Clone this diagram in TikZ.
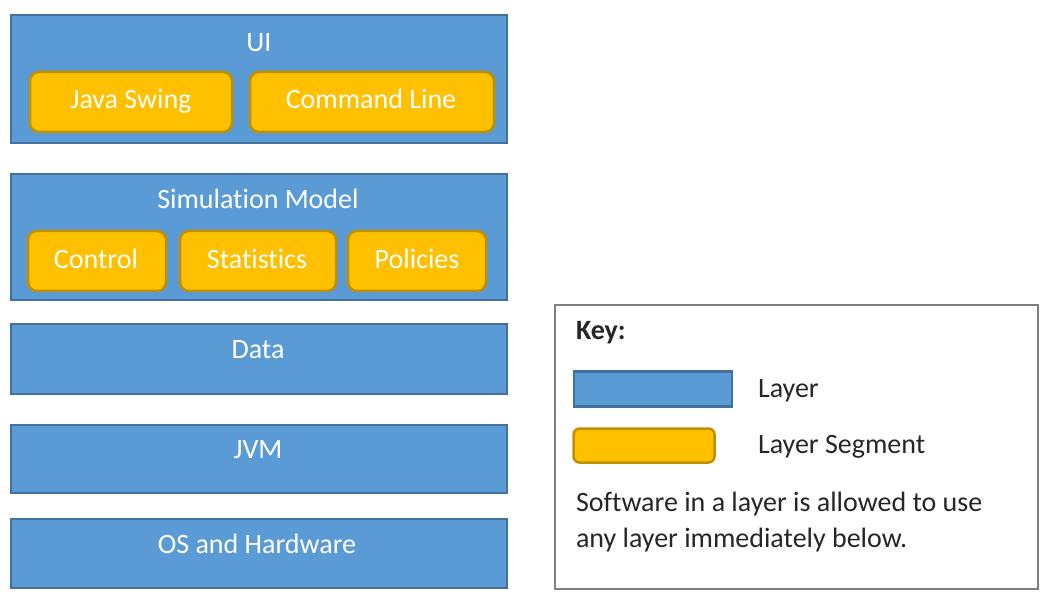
\documentclass[tikz,border=0pt]{standalone}
\usepackage{fontspec}
\setmainfont[Ligatures=NoCommon]{Carlito}
\definecolor{lfill}{HTML}{5B9BD5}
\definecolor{ldraw}{HTML}{41719C}
\definecolor{sfill}{HTML}{FFC000}
\definecolor{sdraw}{HTML}{BF9000}
\definecolor{kdraw}{HTML}{7F7F7F}
\definecolor{ktext}{HTML}{262626}
\begin{document}
\begin{tikzpicture}[x=1pt,y=-1pt,
  every node/.style={font=\fontsize{28}{36}\selectfont, inner sep=0pt, outer sep=0pt},
  layerbox/.style={draw=ldraw, fill=lfill, line width=2.5pt, minimum width=496pt, anchor=center},
  segbox/.style={draw=sdraw, fill=sfill, line width=2.5pt, rounded corners=9pt, minimum height=60pt, anchor=center},
  ltext/.style={text=white, anchor=base},
  ktxt/.style={text=ktext, anchor=base west}]
\useasboundingbox (0,0) rectangle (1054,609);
% layers
\node[layerbox, minimum height=128pt] (ui) at (259,79) {};
\node[ltext] (uit) at (259,52) {UI};
\node[segbox, minimum width=202pt] (swing) at (131,102) {};
\node[ltext] (swingt) at (131,109) {Java Swing};
\node[segbox, minimum width=244pt] (cmd) at (372,102) {};
\node[ltext] (cmdt) at (371,109) {Command Line};

\node[layerbox, minimum height=126pt] (sim) at (259,237) {};
\node[ltext] (simt) at (258,209) {Simulation Model};
\node[segbox, minimum width=138pt] (ctrl) at (97,261) {};
\node[ltext] (ctrlt) at (96,269) {Control};
\node[segbox, minimum width=156pt] (stat) at (258,261) {};
\node[ltext] (statt) at (257,269) {Statistics};
\node[segbox, minimum width=138pt] (pol) at (417,261) {};
\node[ltext] (polt) at (417,269) {Policies};

\node[layerbox, minimum height=70pt] (data) at (259,359) {};
\node[ltext] (datat) at (258,359) {Data};

\node[layerbox, minimum height=68pt] (jvm) at (259,459) {};
\node[ltext] (jvmt) at (258,458) {JVM};

\node[layerbox, minimum height=69pt] (os) at (259,553.5) {};
\node[ltext] (ost) at (257,553) {OS and Hardware};

% key
\node[draw=kdraw, line width=2.5pt, minimum width=483pt, minimum height=284pt, anchor=center] (key) at (796.5,447) {};
\node[ktxt, font=\fontsize{28}{36}\selectfont\bfseries] (keyt) at (576,340) {Key:};
\node[layerbox, minimum width=158pt, minimum height=35pt] (klayer) at (653,389) {};
\node[ktxt] (klayert) at (758,397) {Layer};
\node[segbox, minimum width=141pt, minimum height=34pt, rounded corners=6pt] (kseg) at (644,445.5) {};
\node[ktxt] (ksegt) at (758,453) {Layer Segment};
\node[ktxt] (knote1) at (576,511) {Software in a layer is allowed to use};
\node[ktxt] (knote2) at (576,547) {any layer immediately below.};
\end{tikzpicture}
\end{document}
